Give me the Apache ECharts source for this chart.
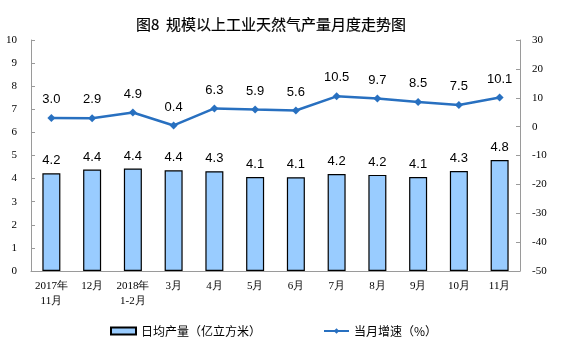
<!DOCTYPE html>
<html><head><meta charset="utf-8">
<script src="https://cdn.jsdelivr.net/npm/echarts@6/dist/echarts.min.js"></script>
<style>html,body{margin:0;padding:0;background:#fff}#c{width:561px;height:357px}</style>
</head><body><div id="c"></div>
<script>
const categories = ['2017年\n11月','12月','2018年\n1-2月','3月','4月','5月','6月','7月','8月','9月','10月','11月'];
const dailyOutput = [4.23,4.39,4.44,4.36,4.32,4.07,4.06,4.2,4.16,4.07,4.33,4.8];
const growth = [3.0,2.9,4.9,0.4,6.3,5.9,5.6,10.5,9.7,8.5,7.5,10.1];
const leftTicks = {min:0,max:10,interval:1};
const rightTicks = {min:-50,max:30,interval:10};

const chart = echarts.init(document.getElementById('c'));
const axisGray = '#9a9a9a';
chart.setOption({
  animation:false,
  title:{text:'图8  规模以上工业天然气产量月度走势图',left:131,top:12,
    textStyle:{fontFamily:'Noto Sans CJK SC',fontSize:15,fontWeight:'normal',color:'#000',
      textBorderColor:'#000',textBorderWidth:0.2}},
  grid:{left:31,right:41,top:40,bottom:86},
  legend:{left:105,top:320,itemGap:62,itemWidth:25,itemHeight:7,
    textStyle:{fontFamily:'Noto Sans CJK SC',fontSize:12,color:'#000'},
    data:[{name:'日均产量（亿立方米）',icon:'rect'},{name:'当月增速（%）'}]},
  xAxis:{type:'category',data:categories,
    axisLine:{lineStyle:{color:axisGray}},
    axisTick:{inside:true,length:4,lineStyle:{color:axisGray}},
    axisLabel:{interval:0,fontFamily:'Liberation Serif',fontSize:11,color:'#000',margin:8,lineHeight:15}},
  yAxis:[
    {type:'value',min:leftTicks.min,max:leftTicks.max,interval:leftTicks.interval,
     splitLine:{show:false},
     axisLine:{show:true,lineStyle:{color:axisGray}},
     axisTick:{show:true,inside:true,length:4,lineStyle:{color:axisGray}},
     axisLabel:{fontFamily:'Liberation Serif',fontSize:11,color:'#000',margin:14}},
    {type:'value',min:rightTicks.min,max:rightTicks.max,interval:rightTicks.interval,
     splitLine:{show:false},
     axisLine:{show:true,lineStyle:{color:axisGray}},
     axisTick:{show:true,inside:true,length:4,lineStyle:{color:axisGray}},
     axisLabel:{fontFamily:'Liberation Serif',fontSize:11,color:'#000',margin:12}}
  ],
  series:[
    {name:'日均产量（亿立方米）',type:'bar',data:dailyOutput,barWidth:18,
     itemStyle:{color:'#99CCFF',borderColor:'#000',borderWidth:1.2},
     label:{show:true,position:'top',distance:6,color:'#000',fontFamily:'Liberation Sans',fontSize:13,
       formatter:p=>p.value.toFixed(1)}},
    {name:'当月增速（%）',type:'line',yAxisIndex:1,data:growth,
     symbol:'diamond',symbolSize:8,
     lineStyle:{color:'#2870C0',width:2.5},itemStyle:{color:'#2870C0'},
     label:{show:true,position:'top',distance:8,color:'#000',fontFamily:'Liberation Sans',fontSize:13,
       formatter:p=>p.value.toFixed(1)}}
  ]
});
</script></body></html>
